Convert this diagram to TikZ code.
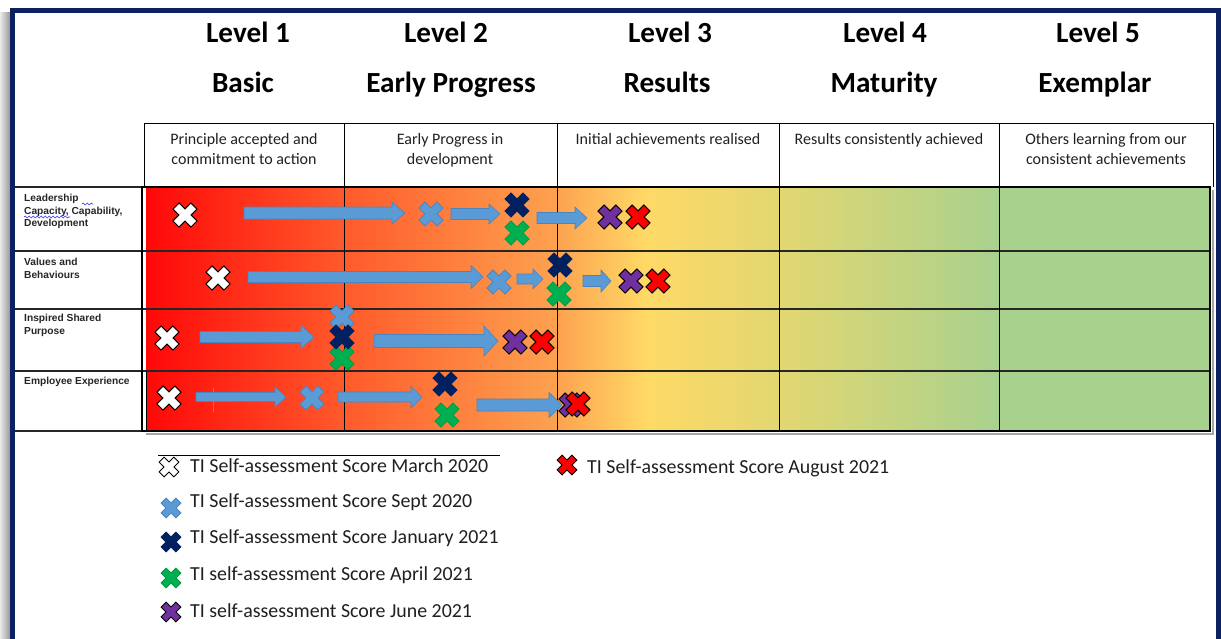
\documentclass[tikz,border=0pt]{standalone}
\usepackage{fontspec}
\setmainfont{Carlito}
\newfontfamily\labfont{Liberation Sans}
\usetikzlibrary{decorations.pathmorphing}
\definecolor{framec}{HTML}{0B2160}
\definecolor{mblue}{HTML}{5B9BD5}
\definecolor{mbluedk}{HTML}{4A84C0}
\definecolor{mnavy}{HTML}{002060}
\definecolor{mgreen}{HTML}{00B050}
\definecolor{mgreendk}{HTML}{009944}
\definecolor{mpurple}{HTML}{7030A0}
\definecolor{mred}{HTML}{FF0000}
\definecolor{gA}{HTML}{FF0808}
\definecolor{gB}{HTML}{FF5A2B}
\definecolor{gC}{HTML}{FDA24F}
\definecolor{gD}{HTML}{FFD966}
\definecolor{gE}{HTML}{E2D771}
\definecolor{gF}{HTML}{A9D18E}
\definecolor{txt}{HTML}{202020}
\newcommand\blockarrow[6]{\path[barrowst] (#1,#3-#4) -- (#2-#6,#3-#4) -- (#2-#6,#3-#5) -- (#2,#3) -- (#2-#6,#3+#5) -- (#2-#6,#3+#4) -- (#1,#3+#4) -- cycle;}
\begin{document}
\begin{tikzpicture}[x=1pt,y=-1pt,
  xm/.pic={\path[pic actions] (4.3,12.7)--(4.3,4.3)--(12.7,4.3)--(12.7,-4.3)--(4.3,-4.3)--(4.3,-12.7)--(-4.3,-12.7)--(-4.3,-4.3)--(-12.7,-4.3)--(-12.7,4.3)--(-4.3,4.3)--(-4.3,12.7)--cycle;},
  xwhite/.style={rotate=45,fill=white,draw=black,line width=1pt},
  xlblue/.style={rotate=45,fill=mblue,draw=mbluedk,line width=0.8pt},
  xnavy/.style={rotate=45,fill=mnavy,draw=mnavy,line width=0.8pt},
  xgreen/.style={rotate=45,fill=mgreen,draw=mgreendk,line width=0.8pt},
  xpurple/.style={rotate=45,fill=mpurple,draw=black,line width=1pt},
  xred/.style={rotate=45,fill=mred,draw=black,line width=1pt},
  legx/.style={scale=0.82},
  barrowst/.style={fill=mblue,draw=mbluedk,line width=0.6pt},
  hdr/.style={anchor=base,font=\bfseries\fontsize{29.2}{30}\selectfont},
  desc/.style={anchor=base,text=txt,font=\fontsize{16}{18}\selectfont},
  rowlab/.style={anchor=north west,align=left,inner sep=0pt,text=black!85,font=\labfont\bfseries\fontsize{10.2}{12.5}\selectfont},
  legtxt/.style={anchor=base west,inner sep=0pt,text=txt,font=\fontsize{19.9}{22}\selectfont},
  rowline/.style={line width=1.4pt,black!85},
  colline/.style={line width=1pt,black}]
\useasboundingbox (0,0) rectangle (1221,638);
\fill[white] (0,0) rectangle (1221,638);
% shadow and frame
\shade[left color=black!8,right color=black!40] (0,12) rectangle (10,638);
\draw[framec,line width=5pt] (12.5,10.5) rectangle (1218.5,690);
% grid shadow
\draw[black!35,line width=2pt] (1212.5,190) -- (1212.5,433.5) -- (146,433.5);
% gradient
\shade[left color=gA,right color=gB] (146,187) rectangle (344.5,431);
\shade[left color=gB,right color=gC] (344,187) rectangle (557.5,431);
\shade[left color=gC,right color=gD] (557,187) rectangle (645.5,431);
\shade[left color=gD,right color=gE] (645,187) rectangle (780.5,431);
\shade[left color=gE,right color=gF] (780,187) rectangle (999.5,431);
\fill[gF] (999,187) rectangle (1210,431);
% lines
\foreach \yy in {251,309,371} \draw[rowline] (15,\yy) -- (1210,\yy);
\draw[rowline] (15,187) -- (142,187);
\draw[rowline] (15,431) -- (142,431);
\foreach \xx in {344,557,779,999} \draw[colline] (\xx,123) -- (\xx,431);
\draw[colline] (144,187) -- (144,123) -- (1213,123) -- (1213,187);
\draw[line width=2.6pt] (142,187) rectangle (1210,431);
\draw[line width=0.8pt] (146.5,371) -- (146.5,431);
% header
\node[hdr] (l1) at (248,42) {Level 1};
\node[hdr] (l2) at (446,42) {Level 2};
\node[hdr] (l3) at (670,42) {Level 3};
\node[hdr] (l4) at (885,42) {Level 4};
\node[hdr] (l5) at (1098,42) {Level 5};
\node[hdr] (n1) at (243,92) {Basic};
\node[hdr] (n2) at (451,92) {Early Progress};
\node[hdr] (n3) at (667,92) {Results};
\node[hdr] (n4) at (884,92) {Maturity};
\node[hdr] (n5) at (1095,92) {Exemplar};
\node[desc] (d1a) at (244,144) {Principle accepted and};
\node[desc] (d1b) at (244,164) {commitment to action};
\node[desc] (d2a) at (450,144) {Early Progress in};
\node[desc] (d2b) at (450,164) {development};
\node[desc] (d3a) at (668,144) {Initial achievements realised};
\node[desc] (d4a) at (889,144) {Results consistently achieved};
\node[desc] (d5a) at (1106,144) {Others learning from our};
\node[desc] (d5b) at (1106,164) {consistent achievements};
% row labels
\node[rowlab] (r1) at (24,194) {Leadership\\Capacity, Capability,\\Development};
\node[rowlab] (r2) at (24,258) {Values and\\Behaviours};
\node[rowlab] (r3) at (24,314) {Inspired Shared\\Purpose};
\node[rowlab] (r4) at (24,377) {Employee Experience};
\draw[blue!80,line width=0.6pt,decorate,decoration={snake,amplitude=1pt,segment length=4pt}] (82,204) -- (93,204);
\draw[blue!80,line width=0.6pt,decorate,decoration={snake,amplitude=1pt,segment length=4pt}] (24,217) -- (70,217);
% row 1
\blockarrow{244}{405}{213}{6}{11}{13}
\blockarrow{451}{500}{214}{5.5}{10}{11}
\blockarrow{537}{587}{218}{5.5}{11}{12}
\pic[xwhite] at (185,215) {xm};
\pic[xlblue] at (431,214) {xm};
\pic[xnavy] at (517,205) {xm};
\pic[xgreen] at (517,233) {xm};
\pic[xpurple] at (610,217) {xm};
\pic[xred] at (638,217) {xm};
% row 2
\blockarrow{248}{483}{277}{5.5}{11.5}{12}
\blockarrow{517}{543}{279}{5}{10}{10}
\blockarrow{583}{611}{281}{5.5}{11}{10}
\pic[xwhite] at (218,278) {xm};
\pic[xlblue] at (499,282) {xm};
\pic[xnavy] at (560,265) {xm};
\pic[xgreen] at (559,294) {xm};
\pic[xpurple] at (631,281) {xm};
\pic[xred] at (658,281) {xm};
% row 3
\blockarrow{200}{314}{337}{5.5}{11.5}{13}
\blockarrow{374}{498}{341}{6.5}{15}{14}
\pic[xwhite] at (167,338) {xm};
\pic[xlblue] at (342,317) {xm};
\pic[xgreen] at (342,358) {xm};
\pic[xnavy] at (342,337) {xm};
\pic[xpurple] at (515,342) {xm};
\pic[xred] at (542,342) {xm};
% row 4
\blockarrow{196}{286}{397}{4.5}{10}{11}
\draw[teal!70,line width=0.8pt] (213,388) -- (213,412);
\blockarrow{338}{422}{397}{5}{11}{11}
\blockarrow{477}{562}{405}{6}{12.5}{13}
\pic[xwhite] at (169,398) {xm};
\pic[xlblue] at (312,398) {xm};
\pic[xnavy] at (445,384) {xm};
\pic[xgreen] at (447,415) {xm};
\pic[xpurple] at (571,405) {xm};
\pic[xred] at (578,404) {xm};
% legend
\draw[line width=0.9pt] (158,455) -- (500,455);
\pic[xwhite,legx,line width=0.8pt] at (169,467) {xm};
\pic[xlblue,legx] at (171,508) {xm};
\pic[xnavy,legx] at (171,542) {xm};
\pic[xgreen,legx] at (171,578) {xm};
\pic[xpurple,legx] at (171,612) {xm};
\pic[xred,legx] at (567,465) {xm};
\node[legtxt] (t1) at (190,472) {TI Self-assessment Score March 2020};
\node[legtxt] (t2) at (190,507) {TI Self-assessment Score Sept 2020};
\node[legtxt] (t3) at (190,543) {TI Self-assessment Score January 2021};
\node[legtxt] (t4) at (190,580) {TI self-assessment Score April 2021};
\node[legtxt] (t5) at (190,617) {TI self-assessment Score June 2021};
\node[legtxt] (t6) at (587,473) {TI Self-assessment Score August 2021};
\end{tikzpicture}
\end{document}
